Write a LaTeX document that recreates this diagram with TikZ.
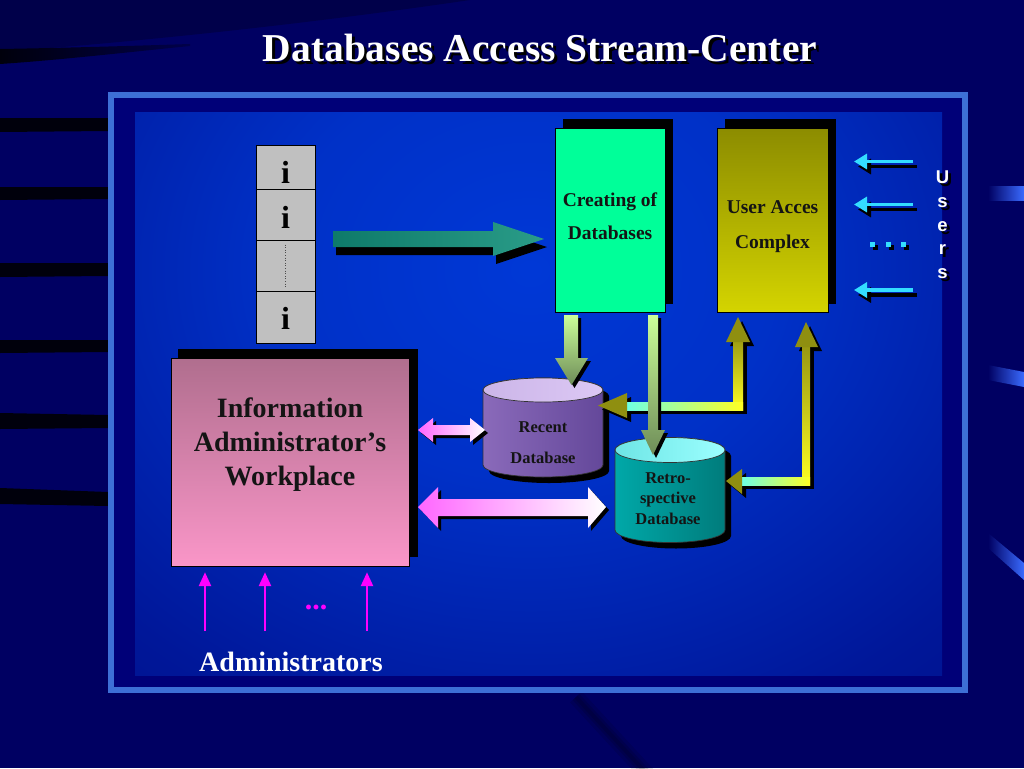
\documentclass[tikz,border=0pt]{standalone}
\usepackage{fontspec}
\setmainfont{Liberation Serif}
\newfontfamily\usersfont{Liberation Sans}
\usetikzlibrary{arrows.meta}
\definecolor{bgnavy}{HTML}{000062}
\definecolor{framein}{HTML}{000078}
\definecolor{framebl}{HTML}{3D6FD6}
\definecolor{crgreen}{HTML}{00FF99}
\definecolor{oliveT}{HTML}{8C8C00}
\definecolor{oliveB}{HTML}{D4D400}
\definecolor{pinkT}{HTML}{B06E8E}
\definecolor{pinkB}{HTML}{FA96C8}
\definecolor{stackgray}{HTML}{C0C0C0}
\definecolor{tealA}{HTML}{0E7A6A}
\definecolor{tealB}{HTML}{2A9C88}
\definecolor{dnA}{HTML}{CCFF99}
\definecolor{dnB}{HTML}{6E8C58}
\definecolor{ylw}{HTML}{FFFF22}
\definecolor{ylhead}{HTML}{8F8F10}
\definecolor{cyL}{HTML}{66FFEE}
\definecolor{magA}{HTML}{FF66FF}
\definecolor{userCyan}{HTML}{33DDFF}
\definecolor{admMag}{HTML}{FF00FF}
\definecolor{purL}{HTML}{8A6ABA}
\definecolor{purM}{HTML}{C8A0F2}
\definecolor{purR}{HTML}{64489A}
\definecolor{purTop}{HTML}{DCC8F4}
\definecolor{cyaL}{HTML}{00A8A8}
\definecolor{cyaM}{HTML}{40F0F0}
\definecolor{cyaR}{HTML}{007C7C}
\definecolor{cyaTop}{HTML}{9CFFFF}
\definecolor{shardB}{HTML}{3A6BFF}
\definecolor{txtdark}{HTML}{141414}
\definecolor{stripe}{HTML}{00000C}
\definecolor{topdark}{HTML}{00004A}
\pgfdeclareradialshading{panelglow}{\pgfpointorigin}{rgb(0bp)=(0,0.22,0.84); rgb(7bp)=(0,0.19,0.78); rgb(16bp)=(0,0.09,0.60); rgb(25bp)=(0,0.035,0.48); rgb(50bp)=(0,0.035,0.48)}
\begin{document}
\begin{tikzpicture}[x=1pt,y=-1pt,
  boxline/.style={draw=black,line width=0.8pt},
  boxtext/.style={anchor=base,text=txtdark,font=\bfseries\fontsize{19.5}{22}\selectfont},
  worktext/.style={anchor=base,text=txtdark,font=\bfseries\fontsize{28}{32}\selectfont},
  dbtext/.style={anchor=base,text=txtdark,font=\bfseries\fontsize{16.5}{19}\selectfont},
  itext/.style={anchor=base,text=black,font=\bfseries\fontsize{32}{36}\selectfont},
  usertext/.style={anchor=base,text=white,font=\usersfont\bfseries\fontsize{18.5}{20}\selectfont},
  usershadow/.style={anchor=base,text=black,font=\usersfont\bfseries\fontsize{18.5}{20}\selectfont},
  userarrow/.style={draw=userCyan,line width=3.2pt,-{Triangle[length=13pt,width=15pt]}},
  usershadowarrow/.style={draw=black,line width=3.2pt,-{Triangle[length=13pt,width=15pt]}},
  adminarrow/.style={draw=admMag,line width=2.5pt,-{Triangle[length=14pt,width=12pt]}},
  cylline/.style={draw=black!80,line width=0.7pt}]
\useasboundingbox (0,0) rectangle (1024,768);
% background
\fill[bgnavy] (0,0) rectangle (1024,768);
\fill[topdark] (0,0) -- (470,0) .. controls (320,22) and (160,40) .. (0,52) -- cycle;
\shade[left color=stripe,right color=topdark] (0,49) .. controls (60,48) and (130,46) .. (190,44) -- (190,46) .. controls (130,52) and (60,60) .. (0,64) -- cycle;
\draw[black,line width=16pt,opacity=0.10] (576,697) -- (648,775);
\draw[black,line width=9pt,opacity=0.12] (576,697) -- (648,775);
\draw[black,line width=4pt,opacity=0.12] (576,697) -- (648,775);
% left stripes
\fill[stripe] (0,118) -- (108,118) -- (108,131) -- (0,132) -- cycle;
\fill[stripe] (0,187) -- (108,187) -- (108,199) -- (0,200) -- cycle;
\fill[stripe] (0,263) -- (108,263) -- (108,276) -- (0,277) -- cycle;
\fill[stripe] (0,340) -- (108,340) -- (108,352) -- (0,353) -- cycle;
\fill[stripe] (0,413) -- (108,415) -- (108,428) -- (0,429) -- cycle;
\fill[stripe] (0,488) -- (108,492) -- (108,506) -- (0,504) -- cycle;
% right shards
\shade[left color=bgnavy,right color=shardB] (988,186) -- (1024,186) -- (1024,200) -- (988,200) -- cycle;
\shade[left color=bgnavy,right color=shardB] (988,365) -- (1024,372) -- (1024,387) -- (988,380) -- cycle;
\shade[left color=bgnavy,right color=shardB] (988,533) -- (1024,563) -- (1024,580) -- (988,548) -- cycle;
% title
\node[anchor=base,text=black,font=\bfseries\fontsize{39.5}{44}\selectfont] (titleshadow) at (543,64) {Databases Access Stream-Center};
\node[anchor=base,text=white,font=\bfseries\fontsize{39.5}{44}\selectfont] (title) at (540,61) {Databases Access Stream-Center};
% frame and panel
\fill[framein] (111,95) rectangle (965,690);
\begin{scope}
\clip (135,112) rectangle (942,675);
\shade[shading=panelglow] (-370,-490) rectangle (1430,1030);
\end{scope}
\draw[framebl,line width=6pt] (111,95) rectangle (965,690);
% stack of i
\node[boxline,fill=stackgray,minimum width=59pt,minimum height=44pt,inner sep=0pt] (s1) at (285.5,167) {};
\node[boxline,fill=stackgray,minimum width=59pt,minimum height=51pt,inner sep=0pt] (s2) at (285.5,214.5) {};
\node[boxline,fill=stackgray,minimum width=59pt,minimum height=51pt,inner sep=0pt] (s3) at (285.5,265.5) {};
\node[boxline,fill=stackgray,minimum width=59pt,minimum height=52pt,inner sep=0pt] (s4) at (285.5,317) {};
\draw[black!70,dotted,line width=0.6pt] (s3.north) ++(0,5) -- ([yshift=5pt]s3.south);
\node[itext] (i1) at (285.5,183) {i};
\node[itext] (i2) at (285.5,228) {i};
\node[itext] (i4) at (285.5,329) {i};
% teal arrow
\fill[black,shift={(3,8)}] (333,231) -- (493,231) -- (493,222) -- (544,239) -- (493,256) -- (493,247) -- (333,247) -- cycle;
\shade[left color=tealA,right color=tealB] (333,231) -- (493,231) -- (493,222) -- (544,239) -- (493,256) -- (493,247) -- (333,247) -- cycle;
% Creating box
\fill[black] (563,119) rectangle (673,304);
\node[boxline,fill=crgreen,minimum width=110pt,minimum height=184pt,inner sep=0pt] (create) at (610,220) {};
\node[boxtext] (create1) at (610,206) {Creating of};
\node[boxtext] (create2) at (610,239) {Databases};
% User box
\fill[black] (725,119) rectangle (836,304);
\shade[top color=oliveT,bottom color=oliveB,draw=black,line width=0.8pt] (717,128) rectangle (828,312);
\node[minimum width=111pt,minimum height=184pt,inner sep=0pt] (ubox) at (772.5,220) {};
\node[boxtext] (user1) at (772.5,213) {User Acces};
\node[boxtext] (user2) at (772.5,248) {Complex};
% users arrows
\coordinate (ua1) at (913,161.5);
\coordinate (ua2) at (913,204.5);
\coordinate (ua3) at (913,290);
\draw[usershadowarrow] ([shift={(4,5)}]ua1) -- ++(-59,0);
\draw[usershadowarrow] ([shift={(4,5)}]ua2) -- ++(-59,0);
\draw[usershadowarrow] ([shift={(4,5)}]ua3) -- ++(-59,0);
\draw[userarrow] (ua1) -- ++(-59,0);
\draw[userarrow] (ua2) -- ++(-59,0);
\draw[userarrow] (ua3) -- ++(-59,0);
\foreach \dx in {872,888,903} {
  \fill[black] (\dx+1,245) rectangle +(4.5,4.5);
  \fill[userCyan] (\dx-2,242) rectangle +(4.5,4.5);
}
\foreach \ch/\yy [count=\k] in {U/183,s/207,e/231,r/254,s/278} {
  \node[usershadow] (ush\k) at (945.5,\yy+3) {\ch};
  \node[usertext] (us\k) at (942.5,\yy) {\ch};
}
% Workplace box
\fill[black] (178,349) rectangle (418,557);
\shade[top color=pinkT,bottom color=pinkB,draw=black,line width=0.8pt] (171,358) rectangle (409,566);
\node[minimum width=238pt,minimum height=208pt,inner sep=0pt] (work) at (290,462) {};
\node[worktext] (w1) at (290,417) {Information};
\node[worktext] (w2) at (290,451) {Administrator’s};
\node[worktext] (w3) at (290,485) {Workplace};
% admin arrows
\coordinate (ad1) at (205,631);
\coordinate (ad2) at (265,631);
\coordinate (ad3) at (367,631);
\draw[adminarrow] (ad1) -- ([yshift=-6pt]ad1 |- work.south);
\draw[adminarrow] (ad2) -- ([yshift=-6pt]ad2 |- work.south);
\draw[adminarrow] (ad3) -- ([yshift=-6pt]ad3 |- work.south);
\node[anchor=base,text=admMag,font=\bfseries\fontsize{30}{32}\selectfont] (adots) at (316,609) {...};
\node[anchor=base,text=white,font=\bfseries\fontsize{28}{32}\selectfont] (admins) at (291,671) {Administrators};
% Recent cylinder
\fill[black,shift={(6,6)}] (483,390) -- (483,465) arc[start angle=180,end angle=360,x radius=60pt,y radius=12pt] -- (603,390) arc[start angle=0,end angle=180,x radius=60pt,y radius=12pt] -- cycle;
\shade[left color=purL,middle color=purM,right color=purR,cylline] (483,390) -- (483,465) arc[start angle=180,end angle=360,x radius=60pt,y radius=12pt] -- (603,390) arc[start angle=0,end angle=180,x radius=60pt,y radius=12pt] -- cycle;
\shade[left color=purTop!80!purL,right color=purTop,cylline] (543,390) ellipse[x radius=60pt,y radius=12pt];
\node[dbtext] (rec1) at (543,432) {Recent};
\node[dbtext] (rec2) at (543,463) {Database};
% Retro cylinder
\fill[black,shift={(6,6)}] (615,450) -- (615,530) arc[start angle=180,end angle=360,x radius=55pt,y radius=12.5pt] -- (725,450) arc[start angle=0,end angle=180,x radius=55pt,y radius=12.5pt] -- cycle;
\shade[left color=cyaL,middle color=cyaM,right color=cyaR,cylline] (615,450) -- (615,530) arc[start angle=180,end angle=360,x radius=55pt,y radius=12.5pt] -- (725,450) arc[start angle=0,end angle=180,x radius=55pt,y radius=12.5pt] -- cycle;
\shade[left color=cyaTop!70!cyaL,right color=cyaTop,cylline] (670,450) ellipse[x radius=55pt,y radius=12.5pt];
\node[dbtext] (ret1) at (668,483) {Retro-};
\node[dbtext] (ret2) at (668,503) {spective};
\node[dbtext] (ret3) at (668,524) {Database};
% yellow L arrow 1 (User box <-> Recent)
\begin{scope}[shift={(4,4)}]
\fill[black] (733,342) rectangle (743,410);
\fill[black] (726,342) -- (738,317) -- (750,342) -- cycle;
\fill[black] (627,402) rectangle (743,410);
\fill[black] (627,393) -- (598,405.5) -- (627,418) -- cycle;
\end{scope}
\shade[top color=ylhead,bottom color=ylw] (733,330) rectangle (743,410);
\fill[ylhead] (726,342) -- (738,317) -- (750,342) -- cycle;
\shade[left color=cyL,right color=ylw] (620,402) rectangle (743,410);
\fill[ylhead] (627,393) -- (598,405.5) -- (627,418) -- cycle;
% yellow L arrow 2 (User box <-> Retro)
\begin{scope}[shift={(4,4)}]
\fill[black] (802,347) rectangle (810,485);
\fill[black] (795,347) -- (806,322) -- (818,347) -- cycle;
\fill[black] (742,477) rectangle (810,485);
\fill[black] (742,469) -- (726,481) -- (742,494) -- cycle;
\end{scope}
\shade[top color=ylhead,bottom color=ylw] (802,335) rectangle (810,485);
\fill[ylhead] (795,347) -- (806,322) -- (818,347) -- cycle;
\shade[left color=cyL,right color=ylw] (738,477) rectangle (810,485);
\fill[ylhead] (742,469) -- (726,481) -- (742,494) -- cycle;
% down arrows from Creating box
\fill[black,shift={(3,3)}] (564,315) -- (578,315) -- (578,358) -- (588,358) -- (571.5,385) -- (555,358) -- (564,358) -- cycle;
\shade[top color=dnA,bottom color=dnB] (564,315) -- (578,315) -- (578,358) -- (588,358) -- (571.5,385) -- (555,358) -- (564,358) -- cycle;
\fill[black,shift={(3,3)}] (648,315) -- (658,315) -- (658,430) -- (665,430) -- (653,455) -- (641,430) -- (648,430) -- cycle;
\shade[top color=dnA,bottom color=dnB] (648,315) -- (658,315) -- (658,430) -- (665,430) -- (653,455) -- (641,430) -- (648,430) -- cycle;
% pink double arrows
\fill[black,shift={(3,3)}] (418,430) -- (433,418) -- (433,425) -- (470,425) -- (470,418) -- (485,430) -- (470,442) -- (470,435) -- (433,435) -- (433,442) -- cycle;
\shade[left color=magA,right color=white] (418,430) -- (433,418) -- (433,425) -- (470,425) -- (470,418) -- (485,430) -- (470,442) -- (470,435) -- (433,435) -- (433,442) -- cycle;
\fill[black,shift={(3,3)}] (418,507) -- (438,487) -- (438,499) -- (588,499) -- (588,487) -- (606,507) -- (588,528) -- (588,516) -- (438,516) -- (438,528) -- cycle;
\shade[left color=magA,right color=white] (418,507) -- (438,487) -- (438,499) -- (588,499) -- (588,487) -- (606,507) -- (588,528) -- (588,516) -- (438,516) -- (438,528) -- cycle;
\end{tikzpicture}
\end{document}
